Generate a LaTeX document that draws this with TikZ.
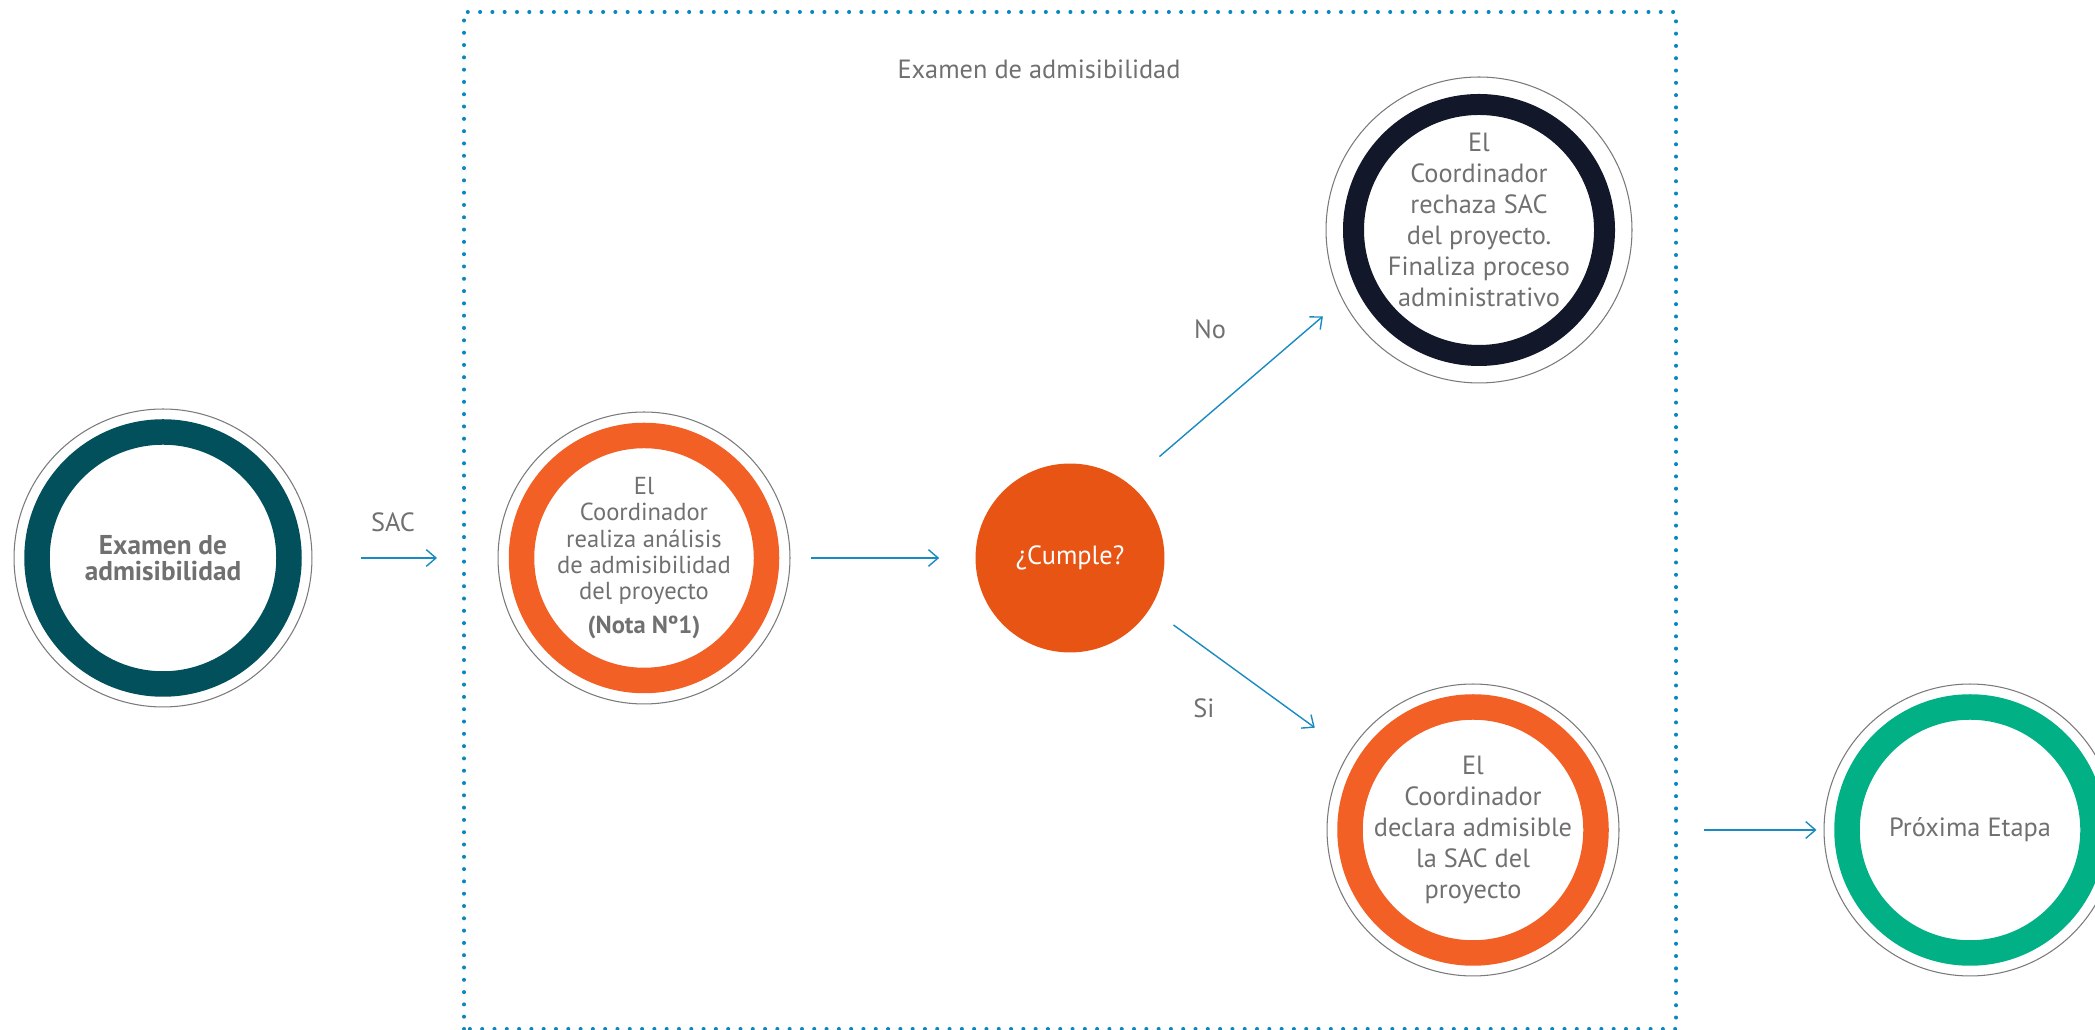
\documentclass[tikz,border=0pt]{standalone}
\usepackage{fontspec}
\setmainfont{PT Sans}
\usetikzlibrary{arrows.meta,positioning}
\definecolor{flowblue}{HTML}{1A8BC2}
\definecolor{dotblue}{HTML}{0A86C0}
\definecolor{txtgray}{HTML}{707070}
\definecolor{rimgray}{HTML}{7A7A7A}
\definecolor{dinteal}{HTML}{02505C}
\definecolor{dinorange}{HTML}{F26025}
\definecolor{cumpleorange}{HTML}{E85414}
\definecolor{dinnavy}{HTML}{12182A}
\definecolor{dingreen}{HTML}{02B086}
\tikzset{>={Straight Barb[length=5.5pt,width=9.5pt]},
	stage/.style={circle,draw=rimgray,line width=0.6pt,inner sep=0pt,align=center,text=txtgray,font=\fontsize{15}{17.6}\selectfont},
	ring/.style={line width=0.51cm},
	flow/.style={->,draw=flowblue,line width=0.8pt},
	lbl/.style={inner sep=0pt,text=txtgray,font=\fontsize{15}{18}\selectfont},
	dotbox/.style={draw=dotblue,line width=2.3pt,line cap=round,dash pattern=on 0pt off 7pt}}
\begin{document}
\begin{tikzpicture}[x=0.02cm,y=0.02cm]
	\useasboundingbox (0,0) rectangle (2095,1030);
	% marco punteado
	\draw [dotbox] (464,1) rectangle (1676,1018);
	\node (titulo) at (1039,961) [lbl] {Examen de admisibilidad};
	% etapas
	\node (examen) at (163,472) [stage,minimum size=5.96cm,font=\bfseries\fontsize{15.5}{14.5}\selectfont] {Examen de\\admisibilidad};
	\draw [ring,dinteal] (examen.center) circle (126);
	\node (analisis) at (644,472) [stage,minimum size=5.84cm,font=\fontsize{14}{15}\selectfont] {El\\Coordinador\\realiza análisis\\de admisibilidad\\del proyecto\\[4pt]\textbf{(Nota Nº1)}};
	\draw [ring,dinorange] (analisis.center) circle (122.5);
	\node (cumple) at (1070,472) [circle,fill=cumpleorange,minimum size=3.78cm,text=white,font=\fontsize{15}{18}\selectfont] {¿Cumple?};
	\node (rechaza) at (1479,800) [stage,minimum size=6.12cm] {};
	\draw [ring,line width=0.42cm,dinnavy] (rechaza.center) circle (125.5);
	\node (rechazatxt) at (1479,810) [lbl,align=center,font=\fontsize{15}{17.6}\selectfont] {El\\Coordinador\\rechaza SAC\\del proyecto.\\Finaliza proceso\\administrativo};
	\node (declara) at (1473,200) [stage,minimum size=5.84cm] {El\\Coordinador\\declara admisible\\la SAC del\\proyecto};
	\draw [ring,dinorange] (declara.center) circle (123);
	\node (proxima) at (1970,200) [stage,minimum size=5.84cm] {Próxima Etapa};
	\draw [ring,dingreen] (proxima.center) circle (123);
	% flechas
	\draw [flow,shorten <=0.97cm,shorten >=1.21cm] (examen) -- (analisis);
	\draw [flow,shorten <=0.41cm,shorten >=0.72cm] (analisis) -- (cumple);
	\draw [flow,shorten <=0.82cm,shorten >=0.51cm] (cumple.52.3) -- (rechaza.207.8);
	\draw [flow,shorten <=0.57cm,shorten >=0.84cm] (cumple.-32.2) -- (declara.148);
	\draw [flow,shorten <=1.68cm,shorten >=0.14cm] (declara) -- (proxima);
	\node (sac) at (393,508) [lbl] {SAC};
	\node (no) at (1210,701) [lbl] {No};
	\node (si) at (1204,322) [lbl] {Si};
\end{tikzpicture}
\end{document}
